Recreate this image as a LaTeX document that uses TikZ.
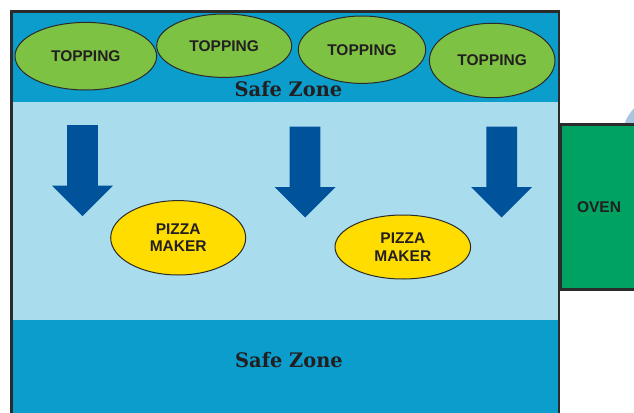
\documentclass[tikz,border=0pt]{standalone}
\usepackage{fontspec}
\setmainfont{Liberation Sans}
\newfontfamily\slabfont{DejaVu Serif}
\usetikzlibrary{shapes.geometric}
\definecolor{darkband}{HTML}{0B9DCB}
\definecolor{lightband}{HTML}{A9DDEE}
\definecolor{arrowblue}{HTML}{00529B}
\definecolor{toppinggreen}{HTML}{7DC242}
\definecolor{makeryellow}{HTML}{FFDD00}
\definecolor{ovengreen}{HTML}{00A261}
\definecolor{framegray}{HTML}{2B2B2B}
\definecolor{textdark}{HTML}{231F20}
\definecolor{ghostblue}{HTML}{A9C5E2}
\begin{document}
\begin{tikzpicture}[x=1pt,y=-1pt,
  lbl/.style={font=\fontsize{15.5}{17.6}\selectfont\bfseries, text=textdark, align=center},
  topping/.style={ellipse, draw=framegray, line width=1pt, fill=toppinggreen, inner sep=0pt, lbl},
  maker/.style={ellipse, draw=framegray, line width=1pt, fill=makeryellow, inner sep=0pt, lbl},
  zonelbl/.style={font=\slabfont\fontsize{20}{22}\selectfont\bfseries, text=textdark, inner sep=0pt},
  dnarrow/.pic={\fill[arrowblue] (-15.3,0) -- (15.3,0) -- (15.3,60.5) -- (30.5,60.5) -- (0,91) -- (-30.5,60.5) -- (-15.3,60.5) -- cycle;}
]
\useasboundingbox (0,0) rectangle (634,412);
\clip (0,0) rectangle (634,412);
% bands
\fill[darkband] (11,11) rectangle (559,101.5);
\fill[lightband] (11,101.5) rectangle (559,320);
\fill[darkband] (11,320) rectangle (559,430);
\draw[framegray, line width=2.6pt] (11.5,430) -- (11.5,11.3) -- (559,11.3) -- (559,430);
% ghost circle behind oven
\fill[ghostblue] (662.5,136.5) circle (40);
% oven
\node[draw=framegray, line width=3pt, fill=ovengreen, minimum width=90pt, minimum height=165.1pt, anchor=north west, inner sep=0pt, outer sep=0pt] (oven) at (560.7,124.2) {};
\node[lbl] (ovenlbl) at (599,207.3) {OVEN};
% toppings
\node[topping, minimum width=141.6pt, minimum height=67.6pt] (t1) at (85.8,56.2) {TOPPING};
\node[topping, minimum width=135pt, minimum height=63.4pt] (t2) at (224.2,45.7) {TOPPING};
\node[topping, minimum width=127.4pt, minimum height=67.4pt] (t3) at (362,49.7) {TOPPING};
\node[topping, minimum width=125.6pt, minimum height=74.4pt] (t4) at (492.2,60.5) {TOPPING};
% safe zone labels
\node[zonelbl] (sz1) at (288.5,89.5) {\scalebox{0.97}[1]{Safe Zone}};
\node[zonelbl] (sz2) at (289,360.5) {\scalebox{0.97}[1]{Safe Zone}};
% arrows
\pic at (82.5,125) {dnarrow};
\pic at (305,126.5) {dnarrow};
\pic at (501.7,126.5) {dnarrow};
% pizza makers
\node[maker, minimum width=135pt, minimum height=74.4pt] (pm1) at (178.2,237.8) {PIZZA\\MAKER};
\node[maker, minimum width=135.6pt, minimum height=64pt] (pm2) at (402.8,247) {PIZZA\\MAKER};
\end{tikzpicture}
\end{document}
